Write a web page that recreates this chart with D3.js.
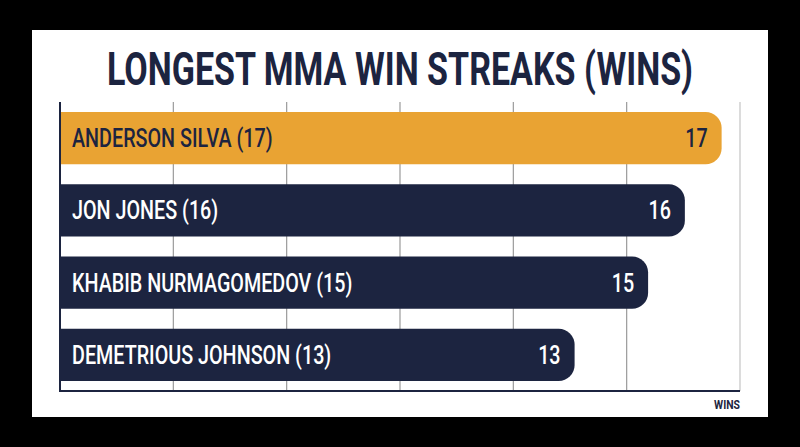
<!DOCTYPE html>
<html><head><meta charset="utf-8">
<script src="https://cdn.jsdelivr.net/npm/d3@7"></script>
<style>html,body{margin:0;padding:0;background:#000;}svg{display:block;}</style>
</head><body>
<svg id="c" width="800" height="447"></svg>
<script>
const fighters = ["ANDERSON SILVA", "JON JONES", "KHABIB NURMAGOMEDOV", "DEMETRIOUS JOHNSON"];
const wins = [17, 16, 15, 13];
const highlight = [true, false, false, false];
const titleText = "LONGEST MMA WIN STREAKS (WINS)";
const axisLabel = "WINS";
const gridCount = 6;

(function(){
const W = 800, H = 447;
const NAVY = "#1c2440", ORANGE = "#e9a333";
const svg = d3.select("#c");
svg.append("rect").attr("x",0).attr("y",0).attr("width",W).attr("height",H).attr("fill","#000");
svg.append("rect").attr("x",32).attr("y",30).attr("width",736).attr("height",387).attr("fill","#fff");

const pL = 60, pR = 740, pT = 102, pB = 391;
const x = d3.scaleLinear().domain([-1, 17.5]).range([pL, pR]);
const y = d3.scaleBand().domain(fighters).range([pT, pB]).paddingInner(0.28).paddingOuter(0.14);
const grid = d3.scaleLinear().domain([0, gridCount]).range([pL, pR]);

// gridlines
svg.append("g").selectAll("line").data(d3.range(1, gridCount+1)).join("line")
  .attr("x1", d=>grid(d)).attr("x2", d=>grid(d)).attr("y1", pT).attr("y2", pB)
  .attr("stroke", d=> d===gridCount ? "#c4c4c4" : "#9a9a9a").attr("stroke-width", 1.2);

// bars
const data = fighters.map((f,i)=>({name:f, v:wins[i], hi:highlight[i]}));
const r = 16;
svg.append("g").selectAll("path").data(data).join("path")
  .attr("d", d=>{
    const x0 = pL, x1 = x(d.v), y0 = y(d.name), h = y.bandwidth();
    const p = d3.path();
    p.moveTo(x0, y0); p.lineTo(x1 - r, y0); p.arcTo(x1, y0, x1, y0 + r, r);
    p.lineTo(x1, y0 + h - r); p.arcTo(x1, y0 + h, x1 - r, y0 + h, r);
    p.lineTo(x0, y0 + h); p.closePath();
    return p.toString();
  })
  .attr("fill", d=> d.hi ? ORANGE : NAVY);

// axes
svg.append("line").attr("x1", pL).attr("x2", pL).attr("y1", pT).attr("y2", pB+1).attr("stroke", NAVY).attr("stroke-width", 2);
svg.append("line").attr("x1", pL).attr("x2", pR).attr("y1", pB).attr("y2", pB).attr("stroke", NAVY).attr("stroke-width", 2);

const FONT = "Roboto, 'Liberation Sans', sans-serif";
function addText(g, txt, tx, ty, size, anchor, fill, weight, k){
  return g.append("text").attr("transform", `translate(${tx},${ty}) scale(${k},1)`)
    .attr("text-anchor", anchor).attr("font-family", FONT).attr("font-size", size)
    .attr("font-weight", weight).attr("fill", fill).text(txt);
}
const lg = svg.append("g");
data.forEach(d=>{
  const cy = y(d.name) + y.bandwidth()/2;
  const col = d.hi ? NAVY : "#ffffff";
  addText(lg, `${d.name} (${d.v})`, 72, cy + 9, 25, "start", col, 500, 0.79);
  addText(lg, `${d.v}`, x(d.v) - 14, cy + 9, 25, "end", col, 500, 0.79);
});

addText(svg, titleText, 400, 85, 46, "middle", NAVY, 700, 0.74);
addText(svg, axisLabel, pR, 409, 13, "end", NAVY, 700, 0.8);
})();
</script>
</body></html>
